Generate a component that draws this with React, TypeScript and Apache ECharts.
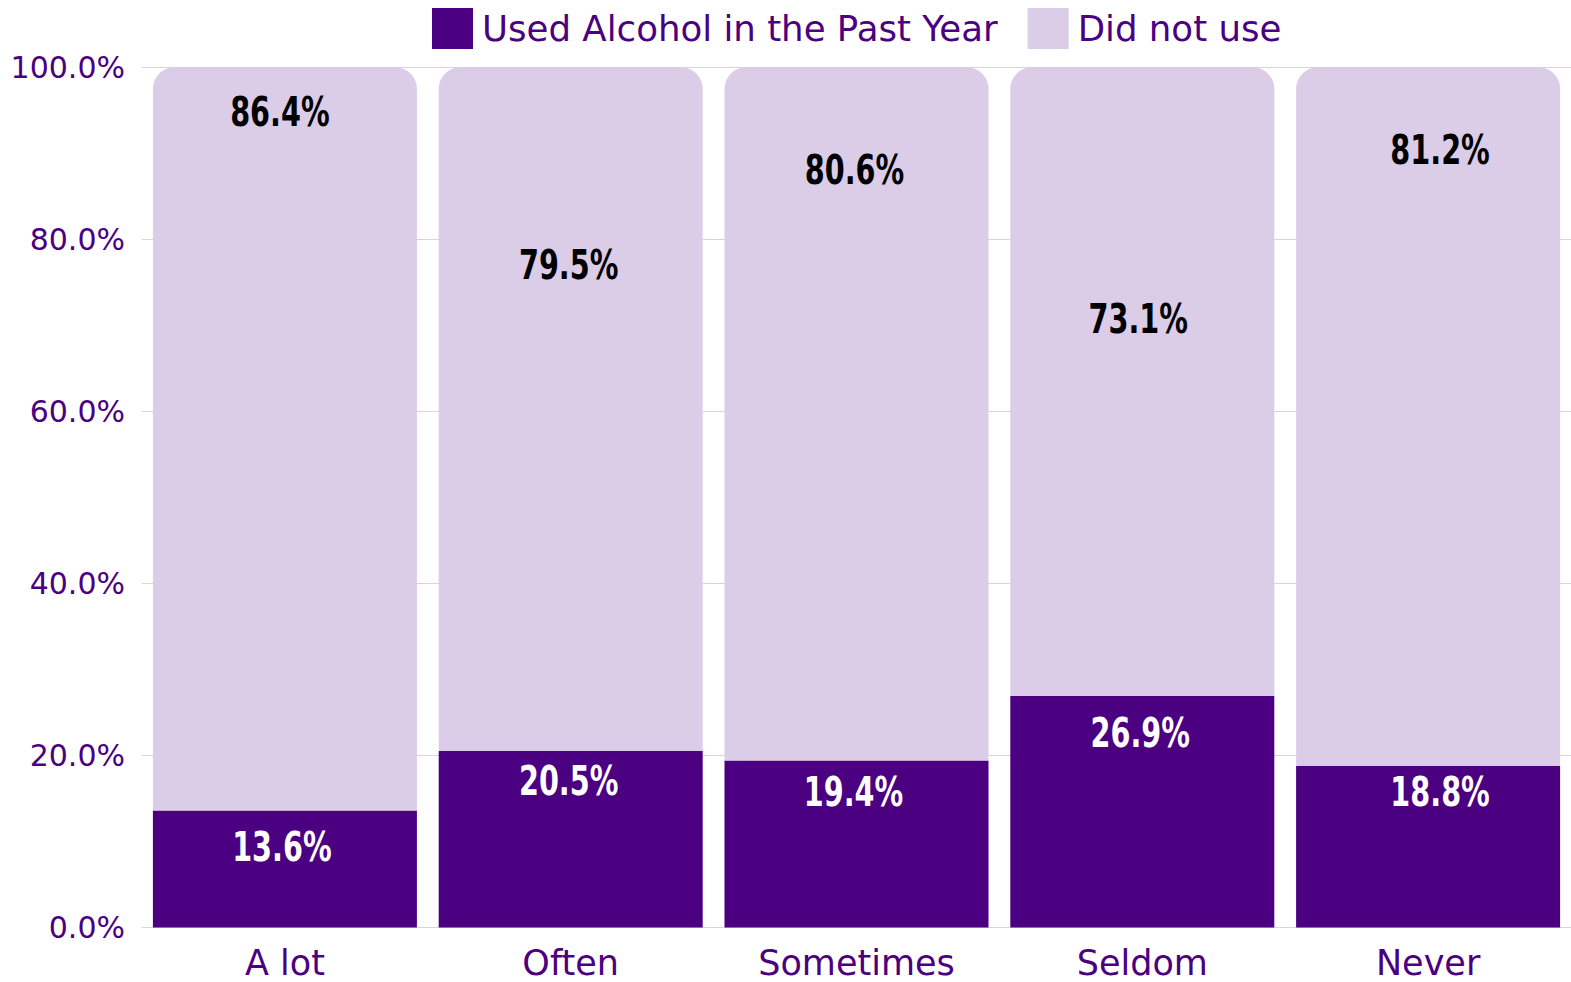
import React, { useEffect, useRef } from "react";
import * as echarts from "echarts";

// Frequency categories along the x axis
const categories = ["A lot", "Often", "Sometimes", "Seldom", "Never"];
// Share who used alcohol in the past year (%)
const usedAlcohol = [13.6, 20.5, 19.4, 26.9, 18.8];
// Share who did not use (%)
const didNotUse = [86.4, 79.5, 80.6, 73.1, 81.2];
// Y axis tick values
const yTicks = [0, 20, 40, 60, 80, 100];

// Label placement inside each segment: [dx, distance below segment top] in px
const usedLabelPlace = [
  [-3, 36],
  [-2, 29],
  [-3, 31],
  [-2, 36],
  [12, 26],
];
const didNotUseLabelPlace = [
  [-5, 45],
  [-2, 198],
  [-2, 103],
  [-4, 252],
  [12, 83],
];

const DARK = "#4B0082";
const LIGHT = "#DBCCE8";
const GRID_LINE = "#DCCFEA";
const UI_FONT = "'DejaVu Sans', 'Noto Sans', sans-serif";
const LABEL_FONT = "'DejaVu Sans', sans-serif";

const pct = (v: number) => `${v.toFixed(1)}%`;

// Condensed, heavy value labels drawn on top of a stacked segment.
// Each data row: [category index, segment value, stack base]
function labelSeries(
  name: string,
  values: number[],
  bases: number[],
  place: number[][],
  color: string
) {
  return {
    type: "custom",
    name,
    silent: true,
    z: 10,
    data: values.map((v, i) => [i, v, bases[i]]),
    encode: { x: 0, y: 1 },
    renderItem: (params: any, api: any) => {
      const idx = api.value(0);
      const v = api.value(1);
      const base = api.value(2);
      const top = api.coord([idx, base + v]);
      const p = place[params.dataIndex];
      return {
        type: "text",
        x: top[0] + p[0],
        y: top[1] + p[1],
        scaleX: 0.7,
        style: {
          text: pct(v),
          fill: color,
          font: `bold 41px ${LABEL_FONT}`,
          align: "center",
          verticalAlign: "middle",
        },
      };
    },
  };
}

export default function App() {
  const ref = useRef<HTMLDivElement>(null);

  useEffect(() => {
    if (!ref.current) return;
    const chart = echarts.init(ref.current, null, { renderer: "svg" });
    const zeros = usedAlcohol.map(() => 0);

    chart.setOption({
      animation: false,
      backgroundColor: "#ffffff",
      legend: {
        left: 432,
        top: 8,
        padding: 0,
        itemWidth: 41,
        itemHeight: 41,
        itemGap: 30,
        icon: "rect",
        textStyle: {
          fontFamily: UI_FONT,
          fontSize: 35.6,
          color: DARK,
          padding: [0, 0, 0, 4],
        },
        data: ["Used Alcohol in the Past Year", "Did not use"],
      },
      grid: {
        left: 142,
        top: 67,
        width: 1429,
        height: 860.5,
        containLabel: false,
      },
      xAxis: {
        type: "category",
        data: categories,
        axisLine: { show: true, lineStyle: { color: GRID_LINE, width: 1 } },
        axisTick: { show: false },
        axisLabel: {
          fontFamily: UI_FONT,
          fontSize: 35,
          color: DARK,
          margin: 18,
          interval: 0,
        },
      },
      yAxis: {
        type: "value",
        min: yTicks[0],
        max: yTicks[yTicks.length - 1],
        interval: yTicks[1] - yTicks[0],
        axisLine: { show: false },
        axisTick: { show: false },
        splitLine: { show: true, lineStyle: { color: GRID_LINE, width: 1 } },
        axisLabel: {
          fontFamily: UI_FONT,
          fontSize: 30,
          color: DARK,
          margin: 17,
          formatter: (v: number) => pct(v),
        },
      },
      series: [
        {
          name: "Used Alcohol in the Past Year",
          type: "bar",
          stack: "total",
          barWidth: 264,
          itemStyle: { color: DARK },
          data: usedAlcohol,
        },
        {
          name: "Did not use",
          type: "bar",
          stack: "total",
          barWidth: 264,
          itemStyle: { color: LIGHT, borderRadius: [22, 22, 0, 0] },
          data: didNotUse,
        },
        labelSeries("usedLabels", usedAlcohol, zeros, usedLabelPlace, "#ffffff"),
        labelSeries("didNotUseLabels", didNotUse, usedAlcohol, didNotUseLabelPlace, "#000000"),
      ],
    });

    return () => chart.dispose();
  }, []);

  return (
    <div
      ref={ref}
      style={{ position: "fixed", left: 0, top: 0, width: 1571, height: 982, background: "#fff" }}
    />
  );
}
